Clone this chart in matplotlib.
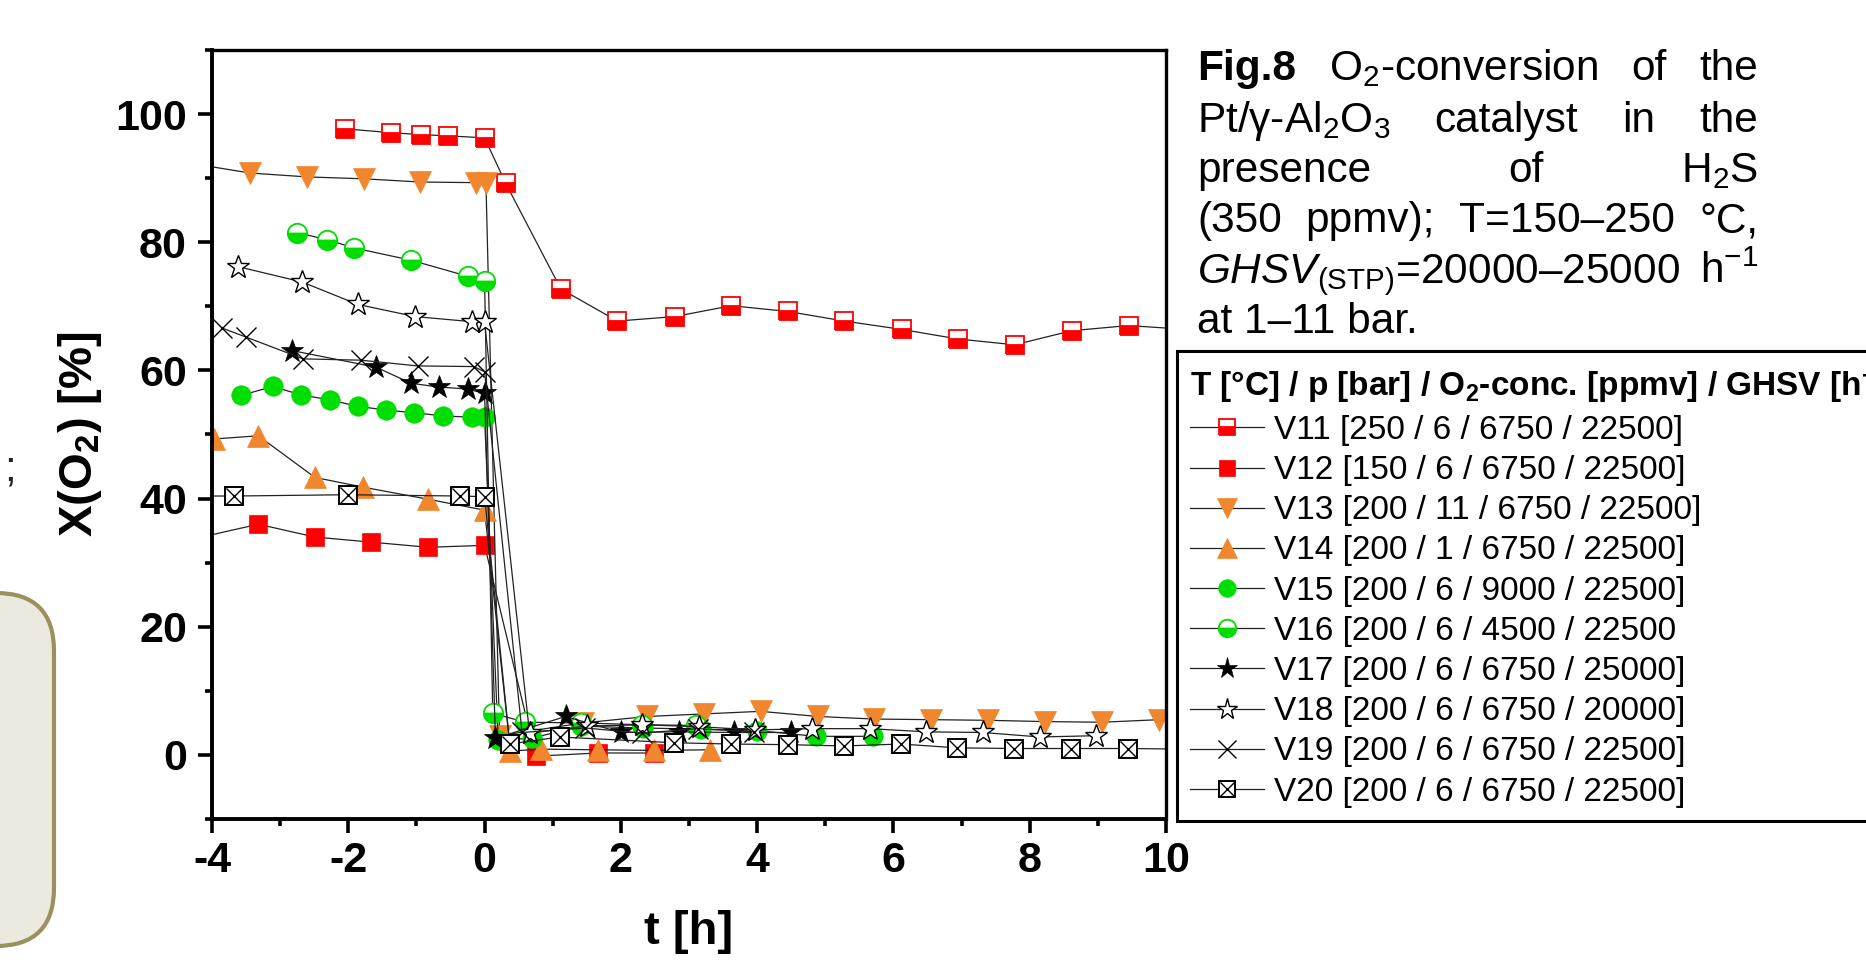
import matplotlib
matplotlib.use('Agg')
import matplotlib.pyplot as plt
from matplotlib.ticker import MultipleLocator
from matplotlib.patches import FancyBboxPatch
from matplotlib.legend_handler import HandlerTuple

plt.rcParams['font.family'] = ['Liberation Sans', 'DejaVu Sans']
plt.rcParams['mathtext.fontset'] = 'custom'
plt.rcParams['mathtext.rm'] = 'Liberation Sans'
plt.rcParams['mathtext.it'] = 'Liberation Sans:italic'
plt.rcParams['mathtext.bf'] = 'Liberation Sans:bold'
plt.rcParams['axes.unicode_minus'] = False

# ---------------- data ----------------
V11_t = [-2.05, -1.38, -0.94, -0.54, 0.0, 0.31, 1.12, 1.95, 2.79, 3.62, 4.45, 5.28, 6.12, 6.95, 7.78, 8.62, 9.45, 10.3]
V11_x = [97.7, 97.1, 96.8, 96.6, 96.3, 89.2, 72.7, 67.7, 68.4, 70.1, 69.2, 67.7, 66.4, 64.9, 64.0, 66.2, 67.0, 66.4]

V12_t = [-4.15, -3.32, -2.49, -1.66, -0.83, 0.0, 0.75, 1.66, 2.48]
V12_x = [34.0, 36.0, 34.0, 33.2, 32.4, 32.7, -0.2, 0.3, 0.3]

V13_t = [-4.25, -3.44, -2.61, -1.77, -0.95, -0.12, 0.02, 0.22, 1.45, 2.39, 3.22, 4.05, 4.89, 5.71, 6.55, 7.39, 8.23, 9.06, 9.9]
V13_x = [92.2, 90.8, 90.2, 89.9, 89.4, 89.3, 89.3, 3.0, 5.0, 6.0, 6.4, 6.8, 6.0, 5.6, 5.5, 5.4, 5.2, 5.1, 5.5]

V14_t = [-3.97, -3.32, -2.49, -1.79, -0.83, 0.0, 0.38, 0.83, 1.67, 2.49, 3.31]
V14_x = [49.3, 49.8, 43.3, 41.8, 39.9, 38.2, 0.6, 0.9, 0.8, 0.7, 0.8]

V15_t = [-3.57, -3.11, -2.70, -2.27, -1.86, -1.44, -1.04, -0.61, -0.19, 0.0, 0.2, 0.69, 1.41, 2.33, 3.18, 4.0, 4.86, 5.70]
V15_x = [56.1, 57.5, 56.2, 55.4, 54.4, 53.8, 53.4, 52.9, 52.7, 52.7, 2.3, 2.6, 4.5, 4.2, 4.0, 3.8, 2.9, 2.9]

V16_t = [-2.75, -2.31, -1.91, -1.08, -0.25, 0.0, 0.12, 0.6, 1.41, 2.31, 3.1]
V16_x = [81.5, 80.4, 79.1, 77.2, 74.7, 73.9, 6.5, 5.1, 5.0, 4.7, 4.6]

V17_t = [-2.83, -1.59, -1.08, -0.67, -0.25, 0.0, 0.16, 1.19, 2.0, 2.85, 3.66, 4.49]
V17_x = [63.1, 60.5, 58.0, 57.4, 57.1, 56.4, 2.6, 6.0, 3.5, 3.6, 3.5, 3.5]

V18_t = [-3.62, -2.68, -1.86, -1.02, -0.18, 0.0, 0.66, 1.5, 2.31, 3.15, 3.97, 4.81, 5.65, 6.48, 7.31, 8.15, 8.98]
V18_x = [76.2, 73.8, 70.3, 68.4, 67.6, 67.5, 3.4, 4.5, 4.7, 4.4, 3.9, 4.1, 4.1, 3.6, 3.5, 2.8, 3.0]

V19_t = [-3.85, -3.5, -2.66, -1.82, -0.98, -0.16, 0.0, 0.55, 1.48, 2.31, 3.13, 3.95]
V19_x = [66.6, 65.2, 61.8, 61.6, 60.7, 60.6, 59.8, 3.5, 4.2, 3.4, 4.1, 3.6]

V20_t = [-4.3, -3.68, -2.01, -0.36, 0.0, 0.37, 1.10, 2.78, 3.61, 4.45, 5.28, 6.11, 6.94, 7.77, 8.6, 9.44, 10.3]
V20_x = [40.4, 40.4, 40.6, 40.4, 40.3, 1.7, 2.8, 1.9, 1.7, 1.6, 1.4, 1.7, 1.1, 1.0, 1.0, 1.0, 0.9]

labels = ["V11 [250 / 6 / 6750 / 22500]",
          "V12 [150 / 6 / 6750 / 22500]",
          "V13 [200 / 11 / 6750 / 22500]",
          "V14 [200 / 1 / 6750 / 22500]",
          "V15 [200 / 6 / 9000 / 22500]",
          "V16 [200 / 6 / 4500 / 22500",
          "V17 [200 / 6 / 6750 / 25000]",
          "V18 [200 / 6 / 6750 / 20000]",
          "V19 [200 / 6 / 6750 / 22500]",
          "V20 [200 / 6 / 6750 / 22500]"]

legend_title = r"T [°C] / p [bar] / O$_\mathbf{2}$-conc. [ppmv] / GHSV [h$^\mathbf{-1}$]"
x_ticks = [-4, -2, 0, 2, 4, 6, 8, 10]
y_ticks = [0, 20, 40, 60, 80, 100]

RED = '#FF0000'
ORANGE = '#F0872E'
GREEN = '#00DD00'
LC = '#222222'
LW = 0.9

W, H = 1866, 964
fig = plt.figure(figsize=(W / 100, H / 100), dpi=100)

# overlay in pixel coordinates (decorations, caption)
ov = fig.add_axes([0, 0, 1, 1], zorder=0)
ov.set_xlim(0, W)
ov.set_ylim(H, 0)
ov.axis('off')

box = FancyBboxPatch((-120, 593), 174, 353, boxstyle='round,pad=0,rounding_size=58',
                     fc='#ECEADF', ec='#9B915F', lw=3)
ov.add_patch(box)
ov.text(4, 470, ';', fontsize=30, ha='left', va='center', color='#222222')

# axes
L, R, T, B = 212, 1166, 50, 819
ax = fig.add_axes([L / W, 1 - B / H, (R - L) / W, (B - T) / H], zorder=1)

common = dict(color=LC, lw=LW)
h11, = ax.plot(V11_t, V11_x, marker='s', ms=13, mfc=RED, mfcalt='white', mec=RED, mew=1.3,
               fillstyle='bottom', **common)
h12, = ax.plot(V12_t, V12_x, marker='s', ms=13.5, mfc=RED, mec=RED, mew=0.5, **common)
h13, = ax.plot(V13_t, V13_x, marker='v', ms=16.5, mfc=ORANGE, mec=ORANGE, mew=0.5, **common)
h14, = ax.plot(V14_t, V14_x, marker='^', ms=16.5, mfc=ORANGE, mec=ORANGE, mew=0.5, **common)
h15, = ax.plot(V15_t, V15_x, marker='o', ms=14, mfc=GREEN, mec=GREEN, mew=0.5, **common)
h16, = ax.plot(V16_t, V16_x, marker='o', ms=14, mfc=GREEN, mfcalt='white', mec=GREEN, mew=1.3,
               fillstyle='bottom', **common)
h17, = ax.plot(V17_t, V17_x, marker='*', ms=17, mfc='black', mec='black', mew=0.5, **common)
h18, = ax.plot(V18_t, V18_x, marker='*', ms=17, mfc='white', mec='black', mew=1.0, **common)
h19, = ax.plot(V19_t, V19_x, marker='x', ms=15, mec='black', mew=1.0, **common)
h20, = ax.plot(V20_t, V20_x, marker='s', ms=13, mfc='white', mec='black', mew=1.4, **common)
h20x, = ax.plot(V20_t, V20_x, marker='x', ms=11, mec='black', mew=1.0, ls='none')

ax.set_xlim(-4, 10)
ax.set_ylim(-10, 110)
ax.set_xticks(x_ticks)
ax.set_yticks(y_ticks)
ax.xaxis.set_minor_locator(MultipleLocator(1))
ax.yaxis.set_minor_locator(MultipleLocator(10))
ax.tick_params(which='major', direction='out', length=10, width=2.6,
               labelsize=31, pad=6)
ax.tick_params(which='minor', direction='out', length=5, width=2.6)
ax.tick_params(axis='y', which='major', pad=8)
for lab in ax.get_xticklabels() + ax.get_yticklabels():
    lab.set_fontweight('bold')
for side in ['left', 'bottom']:
    ax.spines[side].set_linewidth(2.8)
for side in ['top', 'right']:
    ax.spines[side].set_linewidth(2.4)

ax.set_xlabel('t [h]', fontsize=34, fontweight='bold')
ax.xaxis.set_label_coords(0.5, -(910 - B) / (B - T))
ax.set_ylabel(r'X(O$_\mathbf{2}$) [%]', fontsize=34, fontweight='bold')
ax.yaxis.set_label_coords(-(L - 104) / (R - L), 0.5)

# legend
handles = [h11, h12, h13, h14, h15, h16, h17, h18, h19, (h20, h20x)]
leg = ax.legend(handles, labels, loc='upper left',
                bbox_to_anchor=(1177 / W, 1 - 351 / H), bbox_transform=fig.transFigure,
                borderaxespad=0, fontsize=24, title=legend_title,
                title_fontproperties={'weight': 'bold', 'size': 24},
                alignment='left', frameon=True, fancybox=False, edgecolor='black',
                framealpha=1, handlelength=2.2, handletextpad=0.3, labelspacing=0.275,
                borderpad=0.4, markerscale=0.9,
                handler_map={tuple: HandlerTuple(ndivide=1, pad=0)})
leg.get_frame().set_linewidth(2.2)

# caption (justified)
renderer = fig.canvas.get_renderer()
CAP_L, CAP_R, CAP_FS = 1197, 1758, 30.5
cap_lines = [
    [("Fig.8", 'bold'), (r"O$_2$-conversion", 'normal'), ("of", 'normal'), ("the", 'normal')],
    [(r"Pt/γ-Al$_2$O$_3$", 'normal'), ("catalyst", 'normal'), ("in", 'normal'), ("the", 'normal')],
    [("presence", 'normal'), ("of", 'normal'), (r"H$_2$S", 'normal')],
    [("(350", 'normal'), ("ppmv);", 'normal'), ("T=150–250", 'normal'), ("°C,", 'normal')],
    [(r"$\mathit{GHSV}_{\mathrm{(STP)}}$=20000–25000", 'normal'), (r"h$^{\mathrm{-1}}$", 'normal')],
    [("at 1–11 bar.", 'normal')],
]
baselines = [80, 132, 182, 232, 283, 333]
for words, yb in zip(cap_lines, baselines):
    objs = [ov.text(0, yb, w, fontsize=CAP_FS, fontweight=fw,
                    ha='left', va='baseline') for w, fw in words]
    widths = [o.get_window_extent(renderer).width for o in objs]
    gap = (CAP_R - CAP_L - sum(widths)) / (len(objs) - 1) if len(objs) > 1 else 0
    x = CAP_L
    for o, wd in zip(objs, widths):
        o.set_x(x)
        x += wd + gap

fig.savefig('out.png', dpi=100)
